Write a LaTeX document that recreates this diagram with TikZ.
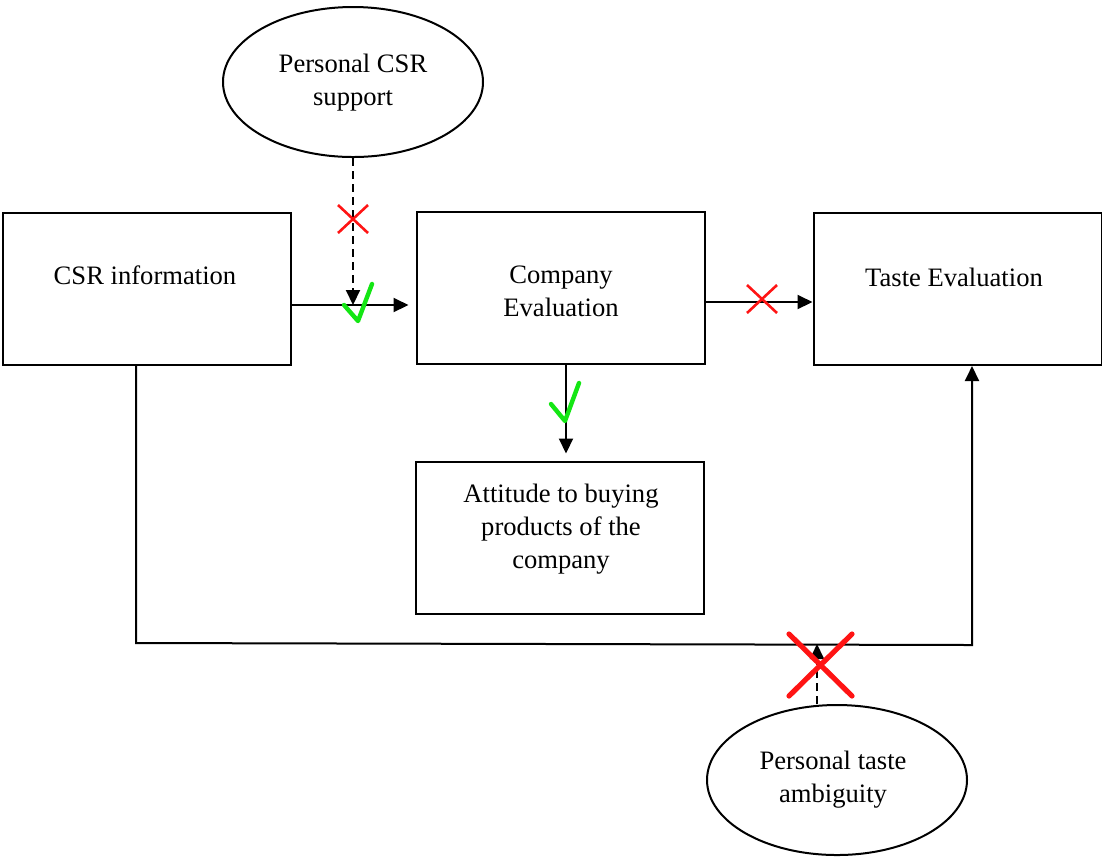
\documentclass[tikz,border=0pt]{standalone}
\usepackage{fontspec}
\setmainfont{Liberation Serif}
\usetikzlibrary{arrows.meta,shapes.geometric,calc}
\definecolor{okgreen}{RGB}{20,230,20}
\definecolor{nored}{RGB}{255,20,20}
\begin{document}
\begin{tikzpicture}[x=0.5pt,y=-0.5pt,
  line width=1pt,
  every node/.style={font=\fontsize{13.3}{16.5}\selectfont},
  stepbox/.style={draw,rectangle,minimum width=144pt,minimum height=76pt,inner sep=0pt},
  ovalbox/.style={draw,ellipse,minimum width=130pt,minimum height=75pt,inner sep=0pt},
  txtlabel/.style={align=center,inner sep=0pt},
  arrline/.style={-{Triangle[length=7.5pt,width=7pt]}},
  dashline/.style={dash pattern=on 4pt off 2.5pt},
  checkmark/.style={okgreen,line width=2.2pt,line cap=round,line join=round},
  redcross/.style={nored,line width=1.3pt},
  bigredcross/.style={nored,line width=2.6pt,line cap=round}]
\useasboundingbox (0,0) rectangle (1102,859);

% boxes
\node[stepbox] (csr) at (147,289) {};
\node[txtlabel] (csrt) at (145,275) {CSR information};
\node[stepbox] (comp) at (560.5,287.5) {};
\node[txtlabel] (compt) at (561,291) {Company\\Evaluation};
\node[stepbox] (taste) at (957.5,289) {};
\node[txtlabel] (tastet) at (954,277) {Taste Evaluation};
\node[stepbox] (att) at (560,537.5) {};
\node[txtlabel] (attt) at (561,529) {Attitude to buying\\products of the\\company};

% moderators
\node[ovalbox] (sup) at (353,82) {};
\node[txtlabel] (supt) at (353,82.5) {Personal CSR\\support};
\node[ovalbox] (amb) at (837,780) {};
\node[txtlabel] (ambt) at (833,780) {Personal taste\\ambiguity};

% junction points
\coordinate (a1) at (csr.east |- 0,305);
\coordinate (a2) at (comp.west |- 0,305);
\coordinate (j1) at (353,305);
\coordinate (b1) at (comp.east |- 0,302);
\coordinate (b2) at (taste.west |- 0,302);
\coordinate (c1) at (566,0 |- comp.south);
\coordinate (c2) at (566,0 |- att.north);
\coordinate (d0) at (136,0 |- csr.south);
\coordinate (d1) at (136,643);
\coordinate (d2) at (972,645);
\coordinate (d3) at (972,0 |- taste.south);
\coordinate (j2) at (817,644);

% connectors
\draw[arrline,shorten >=3.5pt] (a1) -- (a2);
\draw[arrline] (b1) -- (b2);
\draw[arrline,shorten >=3.5pt] (c1) -- (c2);
\draw[arrline] (d0) -- (d1) -- (d2) -- (d3);
\draw[arrline,dashline] (sup.south) -- (j1);
\draw[arrline,dashline] (amb.north -| j2) -- (j2);

% marks
\draw[redcross] (338,205) -- (368,233) (368,205) -- (338,233);
\draw[redcross] (747,285) -- (777,313) (777,285) -- (747,313);
\draw[bigredcross] (789,634) -- (852,696) (852,634) -- (789,696);
\draw[checkmark] (344,305) -- (358,321) -- (372,284);
\draw[checkmark] (551,404) -- (565,421) -- (579,383);
\end{tikzpicture}
\end{document}
